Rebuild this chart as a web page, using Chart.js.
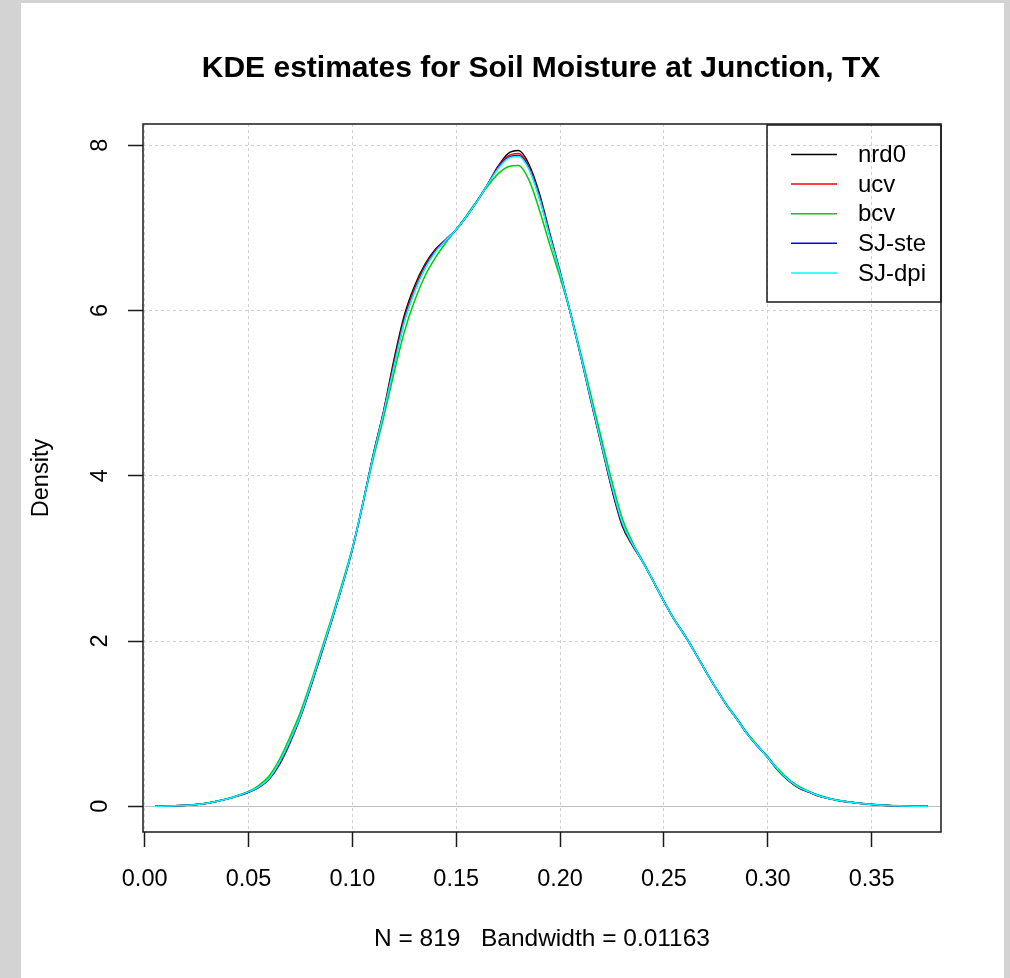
<!DOCTYPE html>
<html>
<head>
<meta charset="utf-8">
<script src="https://cdn.jsdelivr.net/npm/chart.js@4/dist/chart.umd.min.js"></script>
<style>
  html, body { margin: 0; padding: 0; background: #d3d3d3; }
  canvas { display: block; }
</style>
</head>
<body>
<canvas id="kde" width="1010" height="978"></canvas>
<script>
// soil moisture grid (x) and density estimates for each bandwidth rule
let xs = [
    0.005, 0.010, 0.015, 0.020, 0.025, 0.030, 0.035, 0.040, 0.045, 0.050,
    0.055, 0.060, 0.065, 0.070, 0.075, 0.080, 0.085, 0.090, 0.095, 0.100,
    0.105, 0.110, 0.115, 0.120, 0.125, 0.130, 0.135, 0.140, 0.145, 0.150,
    0.155, 0.160, 0.165, 0.170, 0.175, 0.180, 0.185, 0.190, 0.195, 0.200,
    0.205, 0.210, 0.215, 0.220, 0.225, 0.230, 0.235, 0.240, 0.245, 0.250,
    0.255, 0.260, 0.265, 0.270, 0.275, 0.280, 0.285, 0.290, 0.295, 0.300,
    0.305, 0.310, 0.315, 0.320, 0.325, 0.330, 0.335, 0.340, 0.345, 0.350,
    0.355, 0.360, 0.365, 0.370, 0.377
];
let nrd0 = [
    0.000, 0.003, 0.006, 0.012, 0.022, 0.038, 0.060, 0.090, 0.128, 0.170,
    0.230, 0.330, 0.510, 0.770, 1.080, 1.450, 1.840, 2.240, 2.660, 3.110,
    3.660, 4.250, 4.780, 5.400, 5.940, 6.300, 6.560, 6.740, 6.860, 6.980,
    7.140, 7.320, 7.520, 7.740, 7.900, 7.935, 7.770, 7.420, 6.940, 6.470,
    5.970, 5.440, 4.890, 4.360, 3.830, 3.390, 3.150, 2.950, 2.720, 2.480,
    2.260, 2.070, 1.860, 1.640, 1.430, 1.230, 1.060, 0.880, 0.730, 0.590,
    0.430, 0.310, 0.220, 0.170, 0.120, 0.090, 0.065, 0.048, 0.033, 0.022,
    0.014, 0.008, 0.005, 0.002, 0.000
];
let ucv = [
    0.000, 0.003, 0.006, 0.012, 0.022, 0.038, 0.060, 0.090, 0.128, 0.172,
    0.234, 0.336, 0.520, 0.780, 1.090, 1.460, 1.850, 2.250, 2.660, 3.110,
    3.660, 4.240, 4.770, 5.360, 5.900, 6.270, 6.540, 6.730, 6.860, 6.980,
    7.140, 7.320, 7.520, 7.730, 7.870, 7.900, 7.740, 7.390, 6.920, 6.460,
    5.970, 5.450, 4.900, 4.370, 3.850, 3.410, 3.160, 2.950, 2.720, 2.480,
    2.260, 2.070, 1.860, 1.640, 1.430, 1.230, 1.060, 0.880, 0.730, 0.590,
    0.435, 0.315, 0.225, 0.172, 0.122, 0.090, 0.065, 0.048, 0.033, 0.022,
    0.014, 0.008, 0.005, 0.002, 0.000
];
let bcv = [
    0.001, 0.004, 0.008, 0.014, 0.025, 0.041, 0.064, 0.095, 0.134, 0.180,
    0.255, 0.370, 0.570, 0.840, 1.140, 1.500, 1.890, 2.280, 2.690, 3.130,
    3.650, 4.200, 4.700, 5.240, 5.740, 6.120, 6.420, 6.640, 6.820, 6.980,
    7.150, 7.330, 7.500, 7.650, 7.740, 7.755, 7.580, 7.220, 6.800, 6.400,
    5.970, 5.480, 4.960, 4.440, 3.930, 3.480, 3.190, 2.960, 2.720, 2.480,
    2.260, 2.070, 1.860, 1.640, 1.430, 1.240, 1.070, 0.890, 0.740, 0.600,
    0.450, 0.330, 0.240, 0.180, 0.130, 0.095, 0.069, 0.051, 0.036, 0.024,
    0.016, 0.010, 0.006, 0.003, 0.001
];
let sjste = [
    0.000, 0.003, 0.006, 0.012, 0.022, 0.038, 0.061, 0.091, 0.129, 0.173,
    0.236, 0.340, 0.530, 0.790, 1.095, 1.465, 1.855, 2.250, 2.665, 3.115,
    3.660, 4.240, 4.760, 5.330, 5.870, 6.240, 6.520, 6.720, 6.850, 6.980,
    7.140, 7.320, 7.520, 7.720, 7.850, 7.875, 7.720, 7.370, 6.910, 6.455,
    5.970, 5.450, 4.910, 4.380, 3.860, 3.420, 3.170, 2.950, 2.720, 2.480,
    2.260, 2.070, 1.860, 1.640, 1.430, 1.230, 1.060, 0.880, 0.730, 0.590,
    0.438, 0.318, 0.228, 0.174, 0.124, 0.091, 0.066, 0.049, 0.034, 0.022,
    0.014, 0.008, 0.005, 0.002, 0.000
];
let sjdpi = [
    0.000, 0.003, 0.006, 0.012, 0.022, 0.038, 0.061, 0.091, 0.130, 0.174,
    0.238, 0.343, 0.540, 0.800, 1.100, 1.470, 1.860, 2.255, 2.665, 3.115,
    3.660, 4.235, 4.755, 5.320, 5.860, 6.230, 6.510, 6.710, 6.850, 6.980,
    7.140, 7.320, 7.520, 7.710, 7.840, 7.865, 7.710, 7.360, 6.900, 6.450,
    5.970, 5.450, 4.910, 4.380, 3.870, 3.430, 3.170, 2.950, 2.720, 2.480,
    2.260, 2.070, 1.860, 1.640, 1.430, 1.230, 1.060, 0.880, 0.730, 0.590,
    0.440, 0.320, 0.230, 0.175, 0.125, 0.092, 0.066, 0.049, 0.034, 0.022,
    0.014, 0.008, 0.005, 0.002, 0.000
];

let names = ['nrd0', 'ucv', 'bcv', 'SJ-ste', 'SJ-dpi'];
let colors = ['#000000', '#ff0000', '#00cd00', '#0000ff', '#00ffff'];
let series = [nrd0, ucv, bcv, sjste, sjdpi];

let xTicks = [0.00, 0.05, 0.10, 0.15, 0.20, 0.25, 0.30, 0.35];
let yTicks = [0, 2, 4, 6, 8];

const FONT = '"Liberation Sans", Arial, sans-serif';

let datasets = series.map(function(vals, i) {
    return {
        label: names[i],
        data: xs.map((x, j) => ({x: x, y: vals[j]})),
        borderColor: colors[i],
        borderWidth: 1.5,
        pointRadius: 0,
        fill: false,
        cubicInterpolationMode: 'monotone',
        order: series.length - i   // later rules drawn on top, as in R
    };
});

const rplot = {
    id: 'rplot',
    beforeDraw(chart) {
        const c = chart.ctx;
        c.save();
        c.fillStyle = '#d3d3d3';
        c.fillRect(0, 0, chart.width, chart.height);
        c.fillStyle = '#ffffff';
        c.fillRect(21, 3, 983, chart.height - 3);
        c.restore();
    },
    afterDraw(chart) {
        const c = chart.ctx;
        const a = chart.chartArea;
        const ys = chart.scales.y;
        c.save();

        // plot box
        c.strokeStyle = '#1a1a1a';
        c.lineWidth = 1.5;
        c.strokeRect(a.left, a.top, a.right - a.left, a.bottom - a.top);

        // y tick labels, rotated like R's default las
        c.fillStyle = '#000';
        c.font = '23.5px ' + FONT;
        c.textAlign = 'center';
        c.textBaseline = 'alphabetic';
        yTicks.forEach(function(v) {
            c.save();
            c.translate(107, ys.getPixelForValue(v));
            c.rotate(-Math.PI / 2);
            c.fillText(String(v), 0, 0);
            c.restore();
        });

        // y axis title
        c.save();
        c.translate(48, (a.top + a.bottom) / 2);
        c.rotate(-Math.PI / 2);
        c.fillText('Density', 0, 0);
        c.restore();

        // sub title under x axis
        const cx = (a.left + a.right) / 2;
        c.font = '24.5px ' + FONT;
        c.fillText('N = 819   Bandwidth = 0.01163', cx, 946);

        // main title
        c.font = 'bold 30px ' + FONT;
        c.fillText('KDE estimates for Soil Moisture at Junction, TX', cx - 1, 77);

        // legend (top right, inside plot)
        const lx = a.right - 174, ly = a.top + 1;
        c.strokeStyle = '#1a1a1a';
        c.lineWidth = 1.5;
        c.strokeRect(lx, ly, 174, 177);
        c.font = '24px ' + FONT;
        c.textAlign = 'left';
        c.textBaseline = 'middle';
        names.forEach(function(n, i) {
            const y = ly + 29.5 + i * 29.6;
            c.strokeStyle = colors[i];
            c.lineWidth = 1.5;
            c.beginPath();
            c.moveTo(lx + 24, y);
            c.lineTo(lx + 70, y);
            c.stroke();
            c.fillStyle = '#000';
            c.fillText(n, lx + 91, y + 1);
        });
        c.restore();
    }
};

const ctx = document.getElementById('kde');

const kdeChart = new Chart(ctx, {
    type: 'line',
    data: { datasets: datasets },
    plugins: [rplot],
    options: {
        responsive: false,
        animation: false,
        events: [],
        layout: { padding: { top: 124, right: 69, left: 0, bottom: 0 } },
        plugins: {
            legend: { display: false },
            tooltip: { enabled: false },
            title: { display: false }
        },
        scales: {
            x: {
                type: 'linear',
                min: -0.0008,
                max: 0.3834,
                afterBuildTicks: s => { s.ticks = xTicks.map(v => ({value: v})); },
                afterFit: s => { s.height = 146; },
                grid: {
                    color: '#d0d0d0',
                    lineWidth: 1,
                    tickLength: 15,
                    tickColor: '#1a1a1a',
                    tickWidth: 1.5,
                    tickBorderDash: []
                },
                border: { display: false, dash: [3, 3] },
                ticks: {
                    color: '#000',
                    font: { family: FONT, size: 23.5 },
                    padding: 18,
                    maxRotation: 0,
                    autoSkip: false,
                    callback: v => v.toFixed(2)
                }
            },
            y: {
                type: 'linear',
                min: -0.311,
                max: 8.257,
                afterBuildTicks: s => { s.ticks = yTicks.map(v => ({value: v})); },
                afterFit: s => { s.width = 143; },
                grid: {
                    color: ctx => (ctx.tick && ctx.tick.value === 0) ? '#bebebe' : '#d0d0d0',
                    lineWidth: 1,
                    tickLength: 15,
                    tickColor: '#1a1a1a',
                    tickWidth: 1.5,
                    tickBorderDash: []
                },
                border: {
                    display: false,
                    dash: ctx => (ctx.tick && ctx.tick.value === 0) ? [] : [3, 3]
                },
                ticks: { display: false }
            }
        }
    }
});
</script>
</body>
</html>
